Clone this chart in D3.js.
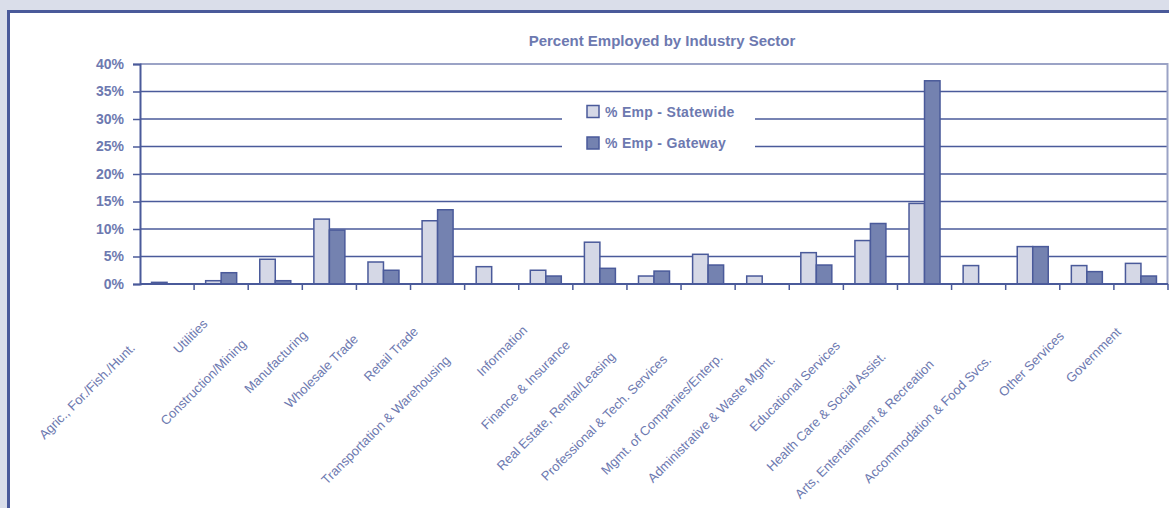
<!DOCTYPE html>
<html>
<head>
<meta charset="utf-8">
<script src="https://cdnjs.cloudflare.com/ajax/libs/d3/7.8.5/d3.min.js"></script>
<style>
body { margin: 0; background: #dadeea; }
svg { display: block; }
text { font-family: "Liberation Sans", Arial, sans-serif; fill: #6d79b0; }
</style>
</head>
<body>
<svg id="chart" width="1169" height="508"></svg>
<script>
// industry sectors, left to right
var sectors = ["Agric., For./Fish./Hunt.", "Utilities", "Construction/Mining", "Manufacturing",
    "Wholesale Trade", "Retail Trade", "Transportation & Warehousing", "Information",
    "Finance & Insurance", "Real Estate, Rental/Leasing", "Professional & Tech. Services",
    "Mgmt. of Companies/Enterp.", "Administrative & Waste Mgmt.", "Educational Services",
    "Health Care & Social Assist.", "Arts, Entertainment & Recreation",
    "Accommodation & Food Svcs.", "Other Services", "Government"];

// percent employed
var statewide = [0.3, 0.6, 4.5, 11.8, 4.0, 11.5, 3.15, 2.5, 7.6, 1.45, 5.4, 1.45, 5.7, 7.9, 14.65, 3.35, 6.8, 3.35, 3.75];
var gateway = [0, 2.05, 0.6, 9.8, 2.5, 13.5, 0, 1.45, 2.85, 2.35, 3.45, 0, 3.45, 11.0, 36.95, 0, 6.8, 2.25, 1.45];

var seriesNames = ["% Emp - Statewide", "% Emp - Gateway"];
var yTicks = [0, 5, 10, 15, 20, 25, 30, 35, 40];

var darkLine = "#4a5a9a";
var colors = { "% Emp - Statewide": "#d5d8e6", "% Emp - Gateway": "#7482b0" };

var svg = d3.select("#chart");

// white panel with dark frame
svg.append("rect")
    .attr("x", 8.5)
    .attr("y", 11.5)
    .attr("width", 1300)
    .attr("height", 700)
    .style("fill", "white")
    .style("stroke", darkLine)
    .style("stroke-width", 3);

var plot = { left: 140, right: 1168, top: 64, bottom: 284 };

var x0 = d3.scaleBand()
    .domain(sectors)
    .range([plot.left, plot.right]);

var barW = 15.5;
var x1 = d3.scaleBand()
    .domain(seriesNames)
    .range([x0.bandwidth() / 2 - barW, x0.bandwidth() / 2 + barW]);

var yScale = d3.scaleLinear()
    .domain([0, 40])
    .range([plot.bottom, plot.top]);

// gridlines
svg.append("g")
    .selectAll("line")
    .data(yTicks.filter(function(d) { return d > 0 && d < 40; }))
    .enter()
    .append("line")
    .attr("x1", plot.left)
    .attr("x2", plot.right)
    .attr("y1", function(d) { return yScale(d); })
    .attr("y2", function(d) { return yScale(d); })
    .style("stroke", darkLine)
    .style("stroke-width", 1.5);

// plot border (top + right)
svg.append("path")
    .attr("d", "M" + plot.left + "," + yScale(40) + "H" + (plot.right - 0.5) + "V" + plot.bottom)
    .style("fill", "none")
    .style("stroke", "#9ba3c6")
    .style("stroke-width", 2);

// legend
var legend = svg.append("g")
    .attr("transform", "translate(562,98)");

legend.append("rect")
    .attr("width", 193)
    .attr("height", 68)
    .style("fill", "white");

var entries = legend.selectAll("g.entry")
    .data(seriesNames)
    .enter()
    .append("g")
    .attr("class", "entry")
    .attr("transform", function(d, i) { return "translate(25," + (7.5 + i * 31.5) + ")"; });

entries.append("rect")
    .attr("width", 12)
    .attr("height", 12)
    .style("fill", function(d) { return colors[d]; })
    .style("stroke", darkLine)
    .style("stroke-width", 1.5);

entries.append("text")
    .text(function(d) { return d; })
    .attr("x", 18)
    .attr("y", 11)
    .style("font-size", "14px")
    .style("font-weight", "bold")
    .style("letter-spacing", "0.3px");

// bars
var groups = svg.append("g")
    .selectAll("g")
    .data(sectors)
    .enter()
    .append("g")
    .attr("transform", function(d) { return "translate(" + x0(d) + ",0)"; });

groups.selectAll("rect")
    .data(function(d, i) {
        return [
            { key: seriesNames[0], value: statewide[i] },
            { key: seriesNames[1], value: gateway[i] }
        ].filter(function(b) { return b.value > 0; });
    })
    .enter()
    .append("rect")
    .attr("x", function(b) { return x1(b.key); })
    .attr("width", x1.bandwidth())
    .attr("y", function(b) { return yScale(b.value); })
    .attr("height", function(b) { return plot.bottom - yScale(b.value); })
    .style("fill", function(b) { return colors[b.key]; })
    .style("stroke", darkLine)
    .style("stroke-width", 1.5);

// y axis
var yAxis = d3.axisLeft(yScale)
    .tickValues(yTicks)
    .tickSize(7)
    .tickPadding(9)
    .tickFormat(function(d) { return d + "%"; });

var yG = svg.append("g")
    .attr("transform", "translate(" + plot.left + ",0)")
    .call(yAxis);

yG.select(".domain").style("stroke", darkLine).style("stroke-width", 2);
yG.selectAll(".tick line").style("stroke", darkLine).style("stroke-width", 1.5);
yG.selectAll(".tick text")
    .style("font-size", "14px")
    .style("font-weight", "bold")
    .style("font-family", "'Liberation Sans', Arial, sans-serif")
    .style("fill", "#6d79b0");

// x axis: baseline + ticks between categories
svg.append("line")
    .attr("x1", plot.left)
    .attr("x2", plot.right)
    .attr("y1", plot.bottom)
    .attr("y2", plot.bottom)
    .style("stroke", darkLine)
    .style("stroke-width", 2);

svg.append("g")
    .selectAll("line")
    .data(sectors)
    .enter()
    .append("line")
    .attr("x1", function(d) { return x0(d) + x0.bandwidth(); })
    .attr("x2", function(d) { return x0(d) + x0.bandwidth(); })
    .attr("y1", plot.bottom)
    .attr("y2", plot.bottom + 6)
    .style("stroke", darkLine)
    .style("stroke-width", 1.5);

// category labels, rotated
svg.append("g")
    .selectAll("text")
    .data(sectors)
    .enter()
    .append("text")
    .text(function(d) { return d; })
    .style("font-size", "13px")
    .style("text-anchor", "end")
    .each(function(d) {
        var len = this.getComputedTextLength();
        var t = 1 + 0.21 * len;
        var ex = x0(d) + x0.bandwidth() / 2 - t - 3;
        var ey = 312 + 1.3 * t;
        d3.select(this).attr("transform", "translate(" + ex + "," + ey + ") rotate(-45)");
    });

// title
svg.append("text")
    .text("Percent Employed by Industry Sector")
    .attr("x", 662)
    .attr("y", 46)
    .style("text-anchor", "middle")
    .style("font-size", "15px")
    .style("font-weight", "bold");
</script>
</body>
</html>
